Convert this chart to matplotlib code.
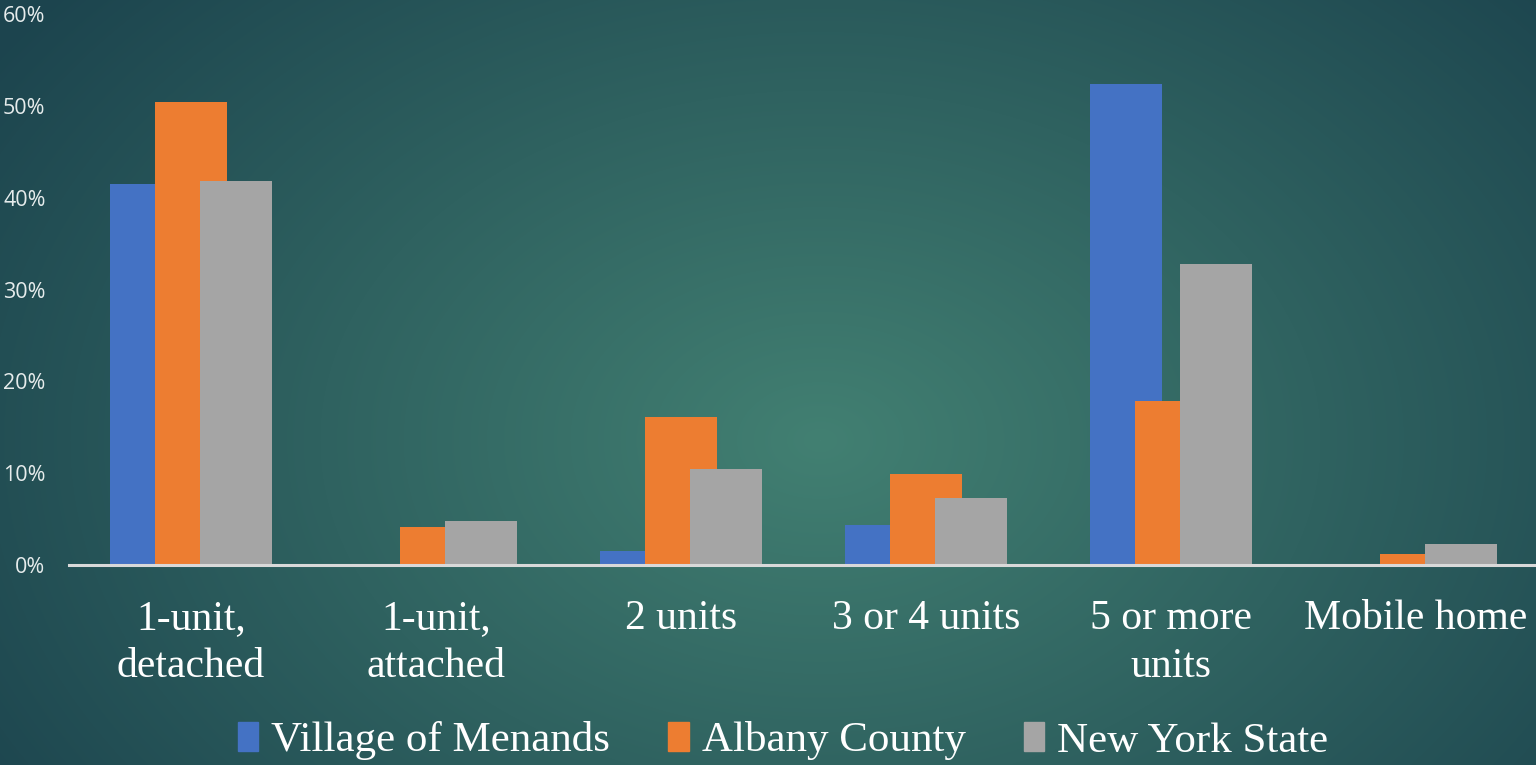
import numpy as np
import matplotlib; matplotlib.use("Agg")
import matplotlib.pyplot as plt
from matplotlib.patches import Patch

categories = ["1-unit,\ndetached", "1-unit,\nattached", "2 units", "3 or 4 units", "5 or more\nunits", "Mobile home"]
menands = [41.5, 0.0, 1.5, 4.4, 52.4, 0.0]
albany = [50.4, 4.1, 16.1, 9.9, 17.9, 1.2]
nys = [41.8, 4.8, 10.5, 7.3, 32.8, 2.3]
series = ["Village of Menands", "Albany County", "New York State"]
colors = ["#4472C4", "#ED7D31", "#A5A5A5"]

fig = plt.figure(figsize=(15.36, 7.65), dpi=100)

# radial teal background
bg = fig.add_axes([0, 0, 1, 1], zorder=0)
yy, xx = np.mgrid[0:765, 0:1536]
r = np.sqrt(((xx - 820) / 1000.0) ** 2 + ((yy - 440) / 700.0) ** 2)
r = np.clip(r, 0, 1)[..., None]
inner = np.array([66, 128, 114]) / 255.0
outer = np.array([28, 68, 78]) / 255.0
bg.imshow(inner * (1 - r) + outer * r, aspect="auto", interpolation="bilinear")
bg.axis("off")

ax = fig.add_axes([68.5 / 1536, 200 / 765, 1470 / 1536, 551 / 765], zorder=1)
ax.patch.set_alpha(0)
x = np.arange(len(categories))
w, off = 0.294, 0.184
for i, (vals, c) in enumerate(zip([menands, albany, nys], colors)):
    ax.bar(x + (i - 1) * off, vals, width=w, color=c, zorder=2 + i)

ax.set_xlim(-0.5, 5.5)
ax.set_ylim(0, 60)
ax.set_yticks(range(0, 61, 10))
ax.set_yticklabels([f"{v}%" for v in range(0, 61, 10)], fontsize=15.5, color="#e6ecec", family="Open Sans")
ax.set_xticks(x)
ax.set_xticklabels(categories, fontsize=30, color="white", family="Liberation Serif", linespacing=1.3)
ax.tick_params(axis="y", length=0, pad=16.5)
ax.tick_params(axis="x", length=0, pad=25)
for s in ["top", "right", "left"]:
    ax.spines[s].set_visible(False)
ax.spines["bottom"].set_color("#d9d9d9")
ax.spines["bottom"].set_linewidth(2.2)
ax.spines["bottom"].set_zorder(10)

handles = [Patch(color=c, label=s) for s, c in zip(series, colors)]
fig.legend(handles=handles, loc="center", bbox_to_anchor=(783 / 1536, 1 - 741 / 765), ncol=3,
           frameon=False, prop={"family": "Liberation Serif", "size": 31}, labelcolor="white",
           handlelength=0.48, handleheight=0.68, handletextpad=0.3, columnspacing=1.35)

fig.savefig("out.png", dpi=100)
